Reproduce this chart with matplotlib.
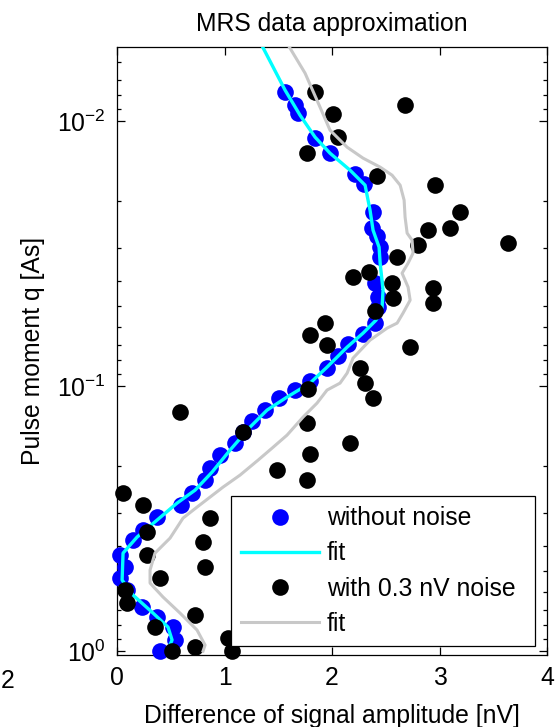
import matplotlib
matplotlib.use("Agg")
import matplotlib.pyplot as plt
from matplotlib.lines import Line2D
from matplotlib.ticker import LogLocator, NullFormatter, FixedLocator

plt.rcParams['font.family'] = ['Liberation Sans', 'DejaVu Sans']
plt.rcParams['mathtext.fontset'] = 'custom'
plt.rcParams['mathtext.rm'] = 'Liberation Sans'
plt.rcParams['mathtext.it'] = 'Liberation Sans'
plt.rcParams['mathtext.default'] = 'regular'

# Noise-free synthetic MRS sounding: amplitude difference [nV] vs pulse moment [As]
clean_amp = [1.563, 1.656, 1.684, 1.842, 1.981, 2.214, 2.298, 2.381, 2.372, 2.419,
             2.447, 2.447, 2.400, 2.428, 2.428, 2.400, 2.288, 2.149, 2.056, 1.953,
             1.795, 1.656, 1.507, 1.377, 1.256, 1.172, 1.098, 0.958, 0.865, 0.819,
             0.698, 0.595, 0.372, 0.242, 0.149, 0.028, 0.074, 0.028, 0.093, 0.233,
             0.372, 0.521, 0.540, 0.400]
clean_q = [0.00777, 0.00870, 0.00933, 0.01159, 0.01321, 0.01585, 0.01729, 0.02204, 0.02534, 0.02716,
           0.02989, 0.03261, 0.04087, 0.04615, 0.05034, 0.05783, 0.06365, 0.06942, 0.07705, 0.08554,
           0.09574, 0.1035, 0.1110, 0.1232, 0.1355, 0.1491, 0.1641, 0.1821, 0.2039, 0.2263,
           0.2534, 0.2813, 0.3122, 0.3495, 0.3812, 0.4342, 0.4819, 0.5302, 0.5884, 0.6823,
           0.7441, 0.8120, 0.9088, 1.0]

# Inversion fit of the noise-free data
clean_fit_amp = [1.312, 1.563, 1.702, 1.842, 1.981, 2.167, 2.307, 2.353, 2.381, 2.437,
                 2.447, 2.474, 2.465, 2.409, 2.288, 2.140, 1.953, 1.795, 1.581, 1.395,
                 1.237, 1.051, 0.884, 0.726, 0.558, 0.372, 0.186, 0.056, 0.047, 0.149,
                 0.335, 0.474, 0.512, 0.465]
clean_fit_q = [0.004862, 0.007638, 0.009493, 0.01149, 0.01321, 0.01531, 0.01744, 0.02167, 0.02578, 0.02989,
               0.03434, 0.04342, 0.05034, 0.05636, 0.06310, 0.07125, 0.08479, 0.09743, 0.1100, 0.1232,
               0.1428, 0.1744, 0.2111, 0.2469, 0.2764, 0.3204, 0.3714, 0.4268, 0.5396, 0.6148,
               0.7189, 0.8120, 0.9088, 1.0]

# Same sounding with 0.3 nV noise added
noisy_amp = [1.842, 2.679, 2.009, 2.056, 1.767, 2.419, 2.958, 3.191, 3.098, 2.893,
             3.637, 2.800, 2.605, 2.344, 2.195, 2.558, 2.940, 2.567, 2.940, 2.400,
             1.935, 1.795, 1.953, 2.726, 2.260, 2.307, 1.777, 2.381, 0.586, 1.767,
             1.172, 2.167, 1.795, 1.488, 1.767, 0.056, 0.242, 0.865, 0.279, 0.800,
             0.279, 0.819, 0.400, 0.074, 0.093, 0.726, 0.353, 1.033, 0.726, 0.512,
             1.070]
noisy_q = [0.00777, 0.00870, 0.00941, 0.01149, 0.01321, 0.01613, 0.01744, 0.02204, 0.02534, 0.02578,
           0.02886, 0.02938, 0.03261, 0.03714, 0.03880, 0.04087, 0.04268, 0.04655, 0.04862, 0.05212,
           0.05783, 0.06420, 0.07003, 0.07125, 0.08554, 0.09743, 0.1026, 0.1110, 0.1254, 0.1379,
           0.1491, 0.1641, 0.1805, 0.2075, 0.2263, 0.2534, 0.2813, 0.3148, 0.3556, 0.3880,
           0.4342, 0.4819, 0.5302, 0.5884, 0.6591, 0.7314, 0.8120, 0.8930, 0.9658, 1.0,
           1.0]

# Inversion fit of the noisy data
noisy_fit_amp = [1.553, 1.749, 1.888, 1.981, 2.140, 2.288, 2.447, 2.558, 2.633, 2.670,
                 2.679, 2.698, 2.744, 2.753, 2.707, 2.651, 2.707, 2.726, 2.660, 2.605,
                 2.512, 2.353, 2.195, 2.140, 2.074, 1.953, 1.860, 1.730, 1.581, 1.442,
                 1.312, 1.144, 0.986, 0.744, 0.614, 0.493, 0.353, 0.307, 0.307, 0.428,
                 0.586, 0.744, 0.819, 0.800]
noisy_fit_q = [0.004862, 0.006591, 0.008855, 0.010814, 0.012537, 0.01379, 0.01491, 0.01599, 0.01744, 0.01987,
               0.02303, 0.02646, 0.02813, 0.03148, 0.03434, 0.03747, 0.04231, 0.04738, 0.05302, 0.05783,
               0.06040, 0.06706, 0.07841, 0.08930, 0.09743, 0.1035, 0.1159, 0.1309, 0.1531, 0.1714,
               0.1902, 0.2167, 0.2405, 0.2862, 0.3148, 0.3747, 0.4268, 0.4945, 0.5539, 0.6255,
               0.7189, 0.8331, 0.9493, 1.0]

legend_labels = ['without noise', 'fit', 'with 0.3 nV noise', 'fit']

FS = 17.8
MS = 12.0
BLUE = '#0000ff'
CYAN = '#00ffff'
GRAY = '#c8c8c8'

fig = plt.figure(figsize=(5.6, 7.27), dpi=100)
ax = fig.add_axes([0.209, 0.099, 0.768, 0.836])

ax.plot(clean_amp, clean_q, 'o', color=BLUE, ms=MS, mew=0, clip_on=False, zorder=3)
ax.plot(clean_fit_amp, clean_fit_q, '-', color=CYAN, lw=2.4, zorder=4)
ax.plot(noisy_amp, noisy_q, 'o', color='black', ms=MS, mew=0, clip_on=False, zorder=5)
ax.plot(noisy_fit_amp, noisy_fit_q, '-', color=GRAY, lw=2.2, zorder=6)

ax.set_yscale('log')
ax.set_xlim(0, 4)
ax.set_ylim(1.035, 10 ** -2.279)
ax.set_xticks([0, 1, 2, 3, 4])
ax.yaxis.set_major_locator(FixedLocator([1e-2, 1e-1, 1e0]))
ax.yaxis.set_minor_locator(LogLocator(base=10, subs=range(2, 10)))
ax.yaxis.set_minor_formatter(NullFormatter())
ax.set_yticklabels([r'$10^{-2}$', r'$10^{-1}$', r'$10^{0}$'])

ax.tick_params(which='both', direction='in', top=True, right=True,
               labelsize=FS, width=0.9, color='black')
ax.tick_params(which='major', length=5.8, pad=8)
ax.tick_params(which='minor', length=3.0)
for s in ax.spines.values():
    s.set_linewidth(0.9)

ax.set_title('MRS data approximation', fontsize=FS, pad=11.5)
ax.set_xlabel('Difference of signal amplitude [nV]', fontsize=FS, labelpad=10)
ax.set_ylabel('Pulse moment q [As]', fontsize=FS, labelpad=9)

handles = [
    Line2D([], [], ls='none', marker='o', color=BLUE, ms=MS, mew=0),
    Line2D([], [], ls='-', color=CYAN, lw=2.4),
    Line2D([], [], ls='none', marker='o', color='black', ms=MS, mew=0),
    Line2D([], [], ls='-', color=GRAY, lw=2.2),
]
leg = ax.legend(handles, legend_labels, loc='lower left', mode='expand',
                bbox_to_anchor=(0.265, 0.0148, 0.707, 0.25), borderaxespad=0,
                fontsize=FS, frameon=True, fancybox=False, framealpha=1,
                edgecolor='black', handlelength=3.15, handletextpad=0.3,
                labelspacing=0.45, borderpad=0.42)
leg.get_frame().set_linewidth(0.9)
leg.set_zorder(10)

fig.text(1 / 560, 1 - 681 / 727, '2', fontsize=FS, ha='left', va='center')

fig.savefig('out.png', dpi=100)
